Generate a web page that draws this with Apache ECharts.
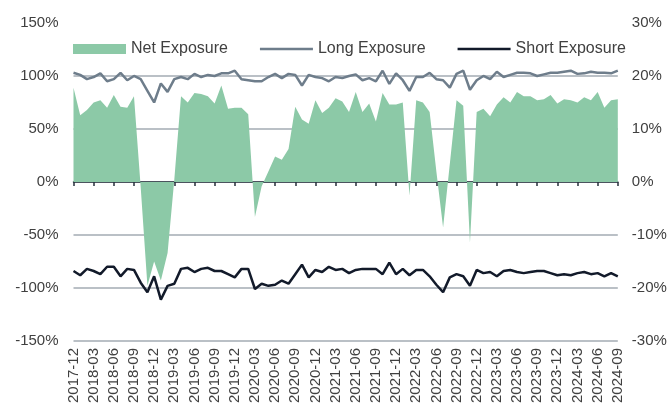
<!DOCTYPE html>
<html>
<head>
<meta charset="utf-8">
<script src="https://cdn.jsdelivr.net/npm/echarts@6/dist/echarts.min.js"></script>
<style>
html,body{margin:0;padding:0;background:#fff;}
#chart{width:670px;height:406px;}
</style>
</head>
<body>
<div id="chart"></div>
<script>
const months = [
 '2017-12',
 '2018-01','2018-02','2018-03','2018-04','2018-05','2018-06','2018-07','2018-08','2018-09','2018-10','2018-11','2018-12',
 '2019-01','2019-02','2019-03','2019-04','2019-05','2019-06','2019-07','2019-08','2019-09','2019-10','2019-11','2019-12',
 '2020-01','2020-02','2020-03','2020-04','2020-05','2020-06','2020-07','2020-08','2020-09','2020-10','2020-11','2020-12',
 '2021-01','2021-02','2021-03','2021-04','2021-05','2021-06','2021-07','2021-08','2021-09','2021-10','2021-11','2021-12',
 '2022-01','2022-02','2022-03','2022-04','2022-05','2022-06','2022-07','2022-08','2022-09','2022-10','2022-11','2022-12',
 '2023-01','2023-02','2023-03','2023-04','2023-05','2023-06','2023-07','2023-08','2023-09','2023-10','2023-11','2023-12',
 '2024-01','2024-02','2024-03','2024-04','2024-05','2024-06','2024-07','2024-08','2024-09'
];

const netExposure = [
 89,63,68,75,77,70,82,71,70,81,-5,-98,-75,-93,-67,2,81,75,84,83,
 81,74,91,69,70,70,64,-33,-4,10,24,21,31,71,59,55,77,65,70,79,
 76,66,85,66,74,57,84,73,73,75,-13,77,75,66,10,-43,17,77,72,-57,
 66,69,62,73,80,75,85,81,81,77,78,82,74,78,77,75,80,77,85,70,
 77,78
];

const longExposure = [
 103,101,97,99,102.5,95,97,103,96,100,97,86,75,93,85,97,99,97,102,99,
 101,100,102.5,102.5,105,97,96,95,95,99,102,98,102,101,91,101,99,98,95,99,
 98,100,101.5,96,98,95,105,92.5,102.5,96,86,99,99,103,97,96,89,102,105,87,
 96,100,97,104,99,101,103,103,102.5,100,101.5,103,103,104,105,102,102.5,104,103,103,
 102.5,105
];

const shortExposure = [
 -84,-88,-82,-84,-87,-80,-80,-89,-82,-83,-95,-104,-89,-111,-98,-96,-82,-81,-85,-82,
 -81,-84,-84,-87,-90,-82,-82,-101,-96,-98,-97,-93,-96,-87,-78,-90,-83,-85,-80,-83,
 -82,-86,-83,-82,-82,-82,-87,-76,-87,-82,-88,-83,-83,-89,-97,-104,-90,-87,-89,-98,
 -83,-86,-85,-89,-84,-83,-85,-86,-85,-84,-84,-86,-88,-87,-88,-86,-85,-87,-86,-89,
 -86,-89
];

const leftTicks = {min: -150, max: 150, step: 50};
const rightTicks = {min: -30, max: 30, step: 10};

const FONT = "'Liberation Sans', Arial, sans-serif";
const TXT = '#404040';
const GRID = '#a3abb3';
// legend line icon: thin bar centred in the full icon box
const LINE_ICON = 'path://M0,0L0,0M0,3.75H53V6.25H0ZM53,10L53,10';

const chart = echarts.init(document.getElementById('chart'), null, {renderer: 'canvas'});
chart.setOption({
  animation: false,
  backgroundColor: '#fff',
  textStyle: {fontFamily: FONT},
  grid: {left: 73.5, right: 52.2, top: 23, bottom: 65, containLabel: false},
  legend: {
    left: 73, top: 41, padding: 0,
    itemWidth: 53, itemHeight: 10, itemGap: 32,
    textStyle: {fontSize: 16, color: TXT, fontFamily: FONT},
    data: [
      {name: 'Net Exposure', icon: 'rect'},
      {name: 'Long Exposure', icon: LINE_ICON},
      {name: 'Short Exposure', icon: LINE_ICON}
    ]
  },
  xAxis: [
    {
      type: 'category', data: months, boundaryGap: false, position: 'bottom',
      axisLine: {show: false, onZero: false},
      axisTick: {show: false},
      splitLine: {show: false},
      axisLabel: {interval: 2, rotate: 90, margin: 7, fontSize: 15, color: TXT, fontFamily: FONT}
    },
    {
      type: 'category', data: months, boundaryGap: false, position: 'bottom',
      axisLine: {show: true, onZero: true, lineStyle: {color: '#27313d', width: 1.5}},
      axisTick: {show: true, interval: 2, length: 4, lineStyle: {color: '#27313d', width: 1.5}},
      axisLabel: {show: false},
      splitLine: {show: false}
    }
  ],
  yAxis: [
    {
      type: 'value', position: 'left',
      min: leftTicks.min, max: leftTicks.max, interval: leftTicks.step,
      axisLine: {show: false}, axisTick: {show: false},
      axisLabel: {formatter: '{value}%', fontSize: 15, color: TXT, margin: 15, fontFamily: FONT},
      splitLine: {show: true, showMaxLine: false, lineStyle: {color: GRID, width: 1.5}}
    },
    {
      type: 'value', position: 'right',
      min: rightTicks.min, max: rightTicks.max, interval: rightTicks.step,
      axisLine: {show: false}, axisTick: {show: false},
      axisLabel: {formatter: '{value}%', fontSize: 15, color: TXT, margin: 14, fontFamily: FONT},
      splitLine: {show: false}
    }
  ],
  series: [
    {
      name: 'Net Exposure', type: 'line', data: netExposure,
      xAxisIndex: 0, yAxisIndex: 0,
      symbol: 'none', showSymbol: false,
      lineStyle: {width: 0, opacity: 0},
      itemStyle: {color: '#8cc9a7'},
      areaStyle: {color: '#8cc9a7', opacity: 1},
      z: 1
    },
    {
      name: 'Long Exposure', type: 'line', data: longExposure,
      xAxisIndex: 0, yAxisIndex: 0,
      symbol: 'none', showSymbol: false,
      lineStyle: {width: 2.5, color: '#6e7d8b'},
      itemStyle: {color: '#6e7d8b'},
      z: 3
    },
    {
      name: 'Short Exposure', type: 'line', data: shortExposure,
      xAxisIndex: 0, yAxisIndex: 0,
      symbol: 'none', showSymbol: false,
      lineStyle: {width: 2.5, color: '#121a2a'},
      itemStyle: {color: '#121a2a'},
      z: 3
    }
  ]
});
</script>
</body>
</html>
